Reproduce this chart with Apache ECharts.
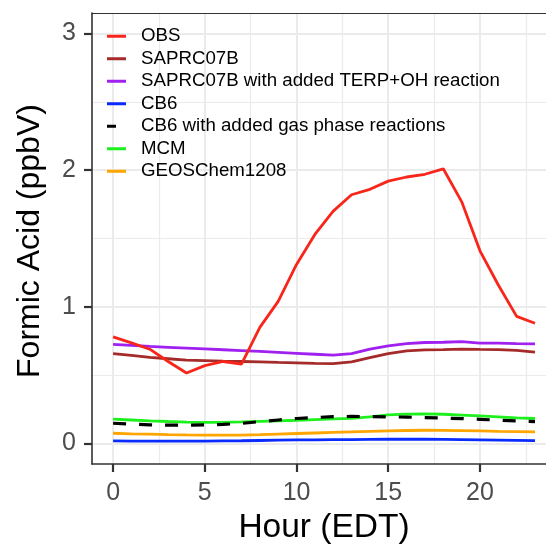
<!DOCTYPE html>
<html>
<head>
<meta charset="utf-8">
<title>Formic Acid diurnal profile</title>
<script src="https://cdn.jsdelivr.net/npm/echarts@6/dist/echarts.min.js"></script>
<style>
  html, body { margin: 0; padding: 0; background: #ffffff; }
  #chart { width: 546px; height: 546px; }
</style>
</head>
<body>
<div id="chart"></div>
<script>
// Hour of day (EDT)
const hours = [0,1,2,3,4,5,6,7,8,9,10,11,12,13,14,15,16,17,18,19,20,21,22,23];

// Formic acid mixing ratios (ppbV) per hour
const obs = [0.78,0.736,0.69,0.60,0.516,0.57,0.60,0.58,0.85,1.04,1.31,1.53,1.70,1.82,1.86,1.92,1.95,1.97,2.01,1.77,1.41,1.16,0.93,0.88];
const saprc07b = [0.658,0.645,0.63,0.62,0.61,0.607,0.603,0.60,0.597,0.593,0.59,0.587,0.585,0.597,0.629,0.658,0.678,0.685,0.687,0.69,0.688,0.687,0.682,0.668];
const saprc07bTerp = [0.726,0.718,0.71,0.704,0.698,0.692,0.686,0.68,0.674,0.667,0.66,0.653,0.646,0.658,0.69,0.714,0.731,0.739,0.741,0.746,0.734,0.734,0.731,0.729];
const cb6 = [0.019,0.018,0.018,0.018,0.018,0.018,0.019,0.02,0.022,0.024,0.026,0.027,0.028,0.029,0.03,0.031,0.031,0.031,0.03,0.029,0.027,0.025,0.023,0.021];
const cb6Gas = [0.148,0.142,0.137,0.134,0.134,0.136,0.14,0.147,0.16,0.172,0.183,0.19,0.197,0.198,0.197,0.195,0.193,0.19,0.186,0.182,0.177,0.171,0.165,0.16];
const mcm = [0.178,0.172,0.166,0.161,0.157,0.154,0.155,0.158,0.162,0.166,0.17,0.175,0.18,0.184,0.195,0.21,0.215,0.217,0.214,0.208,0.202,0.195,0.188,0.183];
const geosChem = [0.075,0.071,0.068,0.065,0.063,0.062,0.061,0.062,0.065,0.069,0.073,0.077,0.081,0.085,0.089,0.092,0.095,0.097,0.096,0.094,0.092,0.089,0.087,0.085];

// Series names (legend order)
const seriesNames = [
  'OBS',
  'SAPRC07B',
  'SAPRC07B with added TERP+OH reaction',
  'CB6',
  'CB6 with added gas phase reactions',
  'MCM',
  'GEOSChem1208'
];

// Axis ticks and gridline positions
const xTicks = [0, 5, 10, 15, 20];
const xMinor = [2.5, 7.5, 12.5, 17.5, 22.5];
const yTicks = [0, 1, 2, 3];
const yMinor = [0.5, 1.5, 2.5];

const FONT = 'Liberation Sans, Arial, Helvetica, sans-serif';
const GRID_COLOR = '#ebebeb';
const AXIS_COLOR = '#333333';

function pairs(values) {
  return hours.map((h, i) => [h, values[i]]);
}

function lineSeries(name, values, color, z, dashed) {
  return {
    name: name,
    type: 'line',
    data: pairs(values),
    showSymbol: false,
    symbol: 'none',
    smooth: false,
    z: z,
    lineStyle: { color: color, width: dashed ? 3.2 : 2.8, type: dashed ? [13, 13] : 'solid', cap: 'butt' },
    itemStyle: { color: color },
    emphasis: { disabled: true }
  };
}

const xMajorLines = xTicks.map(v => ({ xAxis: v, lineStyle: { width: 2, color: GRID_COLOR } }));
const xMinorLines = xMinor.map(v => ({ xAxis: v, lineStyle: { width: 1.2, color: GRID_COLOR } }));
const yMajorLines = yTicks.map(v => ({ yAxis: v, lineStyle: { width: 2, color: GRID_COLOR } }));
const yMinorLines = yMinor.map(v => ({ yAxis: v, lineStyle: { width: 1.2, color: GRID_COLOR } }));

const chart = echarts.init(document.getElementById('chart'), null, { renderer: 'canvas' });

const colors = {
  obs: '#f8261a',
  saprc: '#a52a2a',
  terp: '#a020f0',
  cb6: '#0a2bff',
  cb6Gas: '#000000',
  mcm: '#1ef01e',
  geos: '#ffa500'
};

chart.setOption({
  animation: false,
  backgroundColor: '#ffffff',
  grid: {
    left: 92, top: 13, right: 0, bottom: 82,
    show: false
  },
  legend: {
    left: 102, top: 20,
    z: 10,
    orient: 'vertical',
    itemWidth: 19, itemHeight: 3, itemGap: 0,
    icon: 'rect',
    data: [
      { name: seriesNames[0] },
      { name: seriesNames[1] },
      { name: seriesNames[2] },
      { name: seriesNames[3] },
      { name: seriesNames[4], icon: 'path://M0 0H9V3H0ZM19 0L19 3' },
      { name: seriesNames[5] },
      { name: seriesNames[6] }
    ],
    textStyle: { fontFamily: FONT, fontSize: 18.7, color: '#000000', lineHeight: 22.5, padding: [0, 0, 0, 10] },
    selectedMode: false
  },
  xAxis: [
    {
      type: 'value',
      min: -1.15, max: 23.6,
      axisLine: { show: true, onZero: false, lineStyle: { color: AXIS_COLOR, width: 1.6 } },
      axisTick: { show: true, length: 8, customValues: xTicks, lineStyle: { color: AXIS_COLOR, width: 2.2 } },
      axisLabel: { customValues: xTicks, fontFamily: FONT, fontSize: 25, color: '#4d4d4d', margin: 17 },
      splitLine: { show: false },
      minorSplitLine: { show: false }
    },
    {
      // panel top border
      type: 'value',
      position: 'top',
      min: -1.15, max: 23.6,
      axisLine: { show: true, onZero: false, lineStyle: { color: AXIS_COLOR, width: 1.2 } },
      axisTick: { show: false },
      axisLabel: { show: false },
      splitLine: { show: false }
    }
  ],
  yAxis: {
    type: 'value',
    min: -0.15, max: 3.15,
    axisLine: { show: true, onZero: false, lineStyle: { color: AXIS_COLOR, width: 1.6 } },
    axisTick: { show: true, length: 8, customValues: yTicks, lineStyle: { color: AXIS_COLOR, width: 2.2 } },
    axisLabel: { customValues: yTicks, fontFamily: FONT, fontSize: 25, color: '#4d4d4d', margin: 16 },
    splitLine: { show: false }
  },
  graphic: [
    {
      type: 'text', x: 324, y: 528,
      style: { text: 'Hour (EDT)', fontFamily: FONT, fontSize: 33.5, fill: '#000000', align: 'center', verticalAlign: 'middle' }
    },
    {
      type: 'text', x: 30, y: 241, rotation: Math.PI / 2,
      style: { text: 'Formic Acid (ppbV)', fontFamily: FONT, fontSize: 32, fill: '#000000', align: 'center', verticalAlign: 'middle' }
    }
  ],
  series: [
    {
      name: 'panel-grid',
      type: 'line',
      data: [],
      silent: true,
      z: 0,
      markLine: {
        silent: true,
        z: 0,
        symbol: ['none', 'none'],
        label: { show: false },
        animation: false,
        lineStyle: { type: 'solid' },
        emphasis: { disabled: true },
        data: [].concat(xMinorLines, yMinorLines, xMajorLines, yMajorLines)
      }
    },
    lineSeries(seriesNames[6], geosChem, colors.geos, 3, false),
    lineSeries(seriesNames[3], cb6, colors.cb6, 3, false),
    lineSeries(seriesNames[5], mcm, colors.mcm, 3, false),
    lineSeries(seriesNames[4], cb6Gas, colors.cb6Gas, 4, true),
    lineSeries(seriesNames[1], saprc07b, colors.saprc, 3, false),
    lineSeries(seriesNames[2], saprc07bTerp, colors.terp, 3, false),
    lineSeries(seriesNames[0], obs, colors.obs, 5, false)
  ]
});
</script>
</body>
</html>
